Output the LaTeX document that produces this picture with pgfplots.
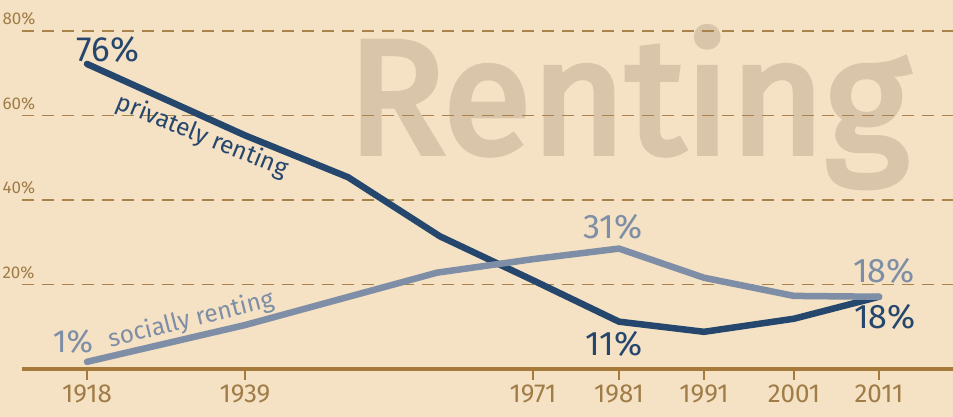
\documentclass[border=0pt]{standalone}
\usepackage{pgfplots}
\pgfplotsset{compat=1.18}
\usepackage{fontspec}
\setmainfont{Fira Sans}
\newfontfamily\wmfont[FakeBold=3.5]{Fira Sans}
\definecolor{bg}{HTML}{F5E1C3}
\definecolor{axc}{HTML}{A57A3B}
\definecolor{gridc}{HTML}{A8844A}
\definecolor{tickc}{HTML}{A07D48}
\definecolor{wm}{HTML}{D9C6AA}
\definecolor{priv}{HTML}{25476E}
\definecolor{soc}{HTML}{7D8EA6}
\begin{document}
\begin{tikzpicture}
\fill[bg] (0pt,-48pt) rectangle (953pt,369pt);
\useasboundingbox (0pt,-48pt) rectangle (953pt,369pt);
\node[anchor=base west, inner sep=0, text=wm, font=\wmfont\fontsize{162}{162}\selectfont] at (347pt,216pt) {Renting};
\begin{axis}[
 at={(22pt,0pt)}, anchor=south west,
 scale only axis, width=931pt, height=369pt,
 xmin=22, xmax=953, ymin=0, ymax=87.34,
 clip=false,
 axis x line*=bottom, axis y line*=left,
 x axis line style={line width=4pt, color=axc, -},
 y axis line style={draw=none},
 xtick={87,245,533,619,704,794,879},
 xticklabels={1918,1939,1971,1981,1991,2001,2011},
 xtick style={line width=1.5pt, color=axc},
 tick align=outside, major tick length=11pt,
 xticklabel style={text=tickc, font=\fontsize{26}{26}\selectfont, yshift=-1pt},
 ytick={20,40,60,80},
 yticklabels={20\%,40\%,60\%,80\%},
 ytick style={draw=none},
 yticklabel style={text=tickc, font=\fontsize{17}{17}\selectfont, anchor=south west, xshift=-12pt, yshift=2pt},
 ymajorgrids,
 major grid style={gridc, line width=1.5pt, dash pattern=on 12pt off 8pt},
]
\addplot[priv, line width=6.5pt, line cap=round, line join=round] coordinates {
 (87,72.2) (245,55.3) (348,45.4) (440,31.4) (533,21.0) (619,11.2) (704,8.8) (794,11.9) (879,17.1)};
\addplot[soc, line width=6.5pt, line cap=round, line join=round] coordinates {
 (87,1.7) (245,10.4) (437,22.8) (533,26.0) (619,28.5) (704,21.6) (794,17.3) (879,17.1)};
\node[anchor=base, text=priv, font=\fontsize{35}{35}\selectfont] at (axis cs:108,72.7) {76\%};
\node[rotate=-22, text=priv, font=\fontsize{24.5}{24.5}\selectfont] at (axis cs:202,55.1) {privately renting};
\node[rotate=14, text=soc, font=\fontsize{24.5}{24.5}\selectfont] at (axis cs:191,11.6) {socially renting};
\node[anchor=base, text=soc, font=\fontsize{32}{32}\selectfont] at (axis cs:73,4.0) {1\%};
\node[anchor=base, text=soc, font=\fontsize{34}{34}\selectfont] at (axis cs:613,30.8) {31\%};
\node[anchor=base, text=soc, font=\fontsize{34}{34}\selectfont] at (axis cs:884,20.4) {18\%};
\node[anchor=base, text=priv, font=\fontsize{34}{34}\selectfont] at (axis cs:885,9.7) {18\%};
\node[anchor=base, text=priv, font=\fontsize{34}{34}\selectfont] at (axis cs:614,3.3) {11\%};
\end{axis}
\end{tikzpicture}
\end{document}
